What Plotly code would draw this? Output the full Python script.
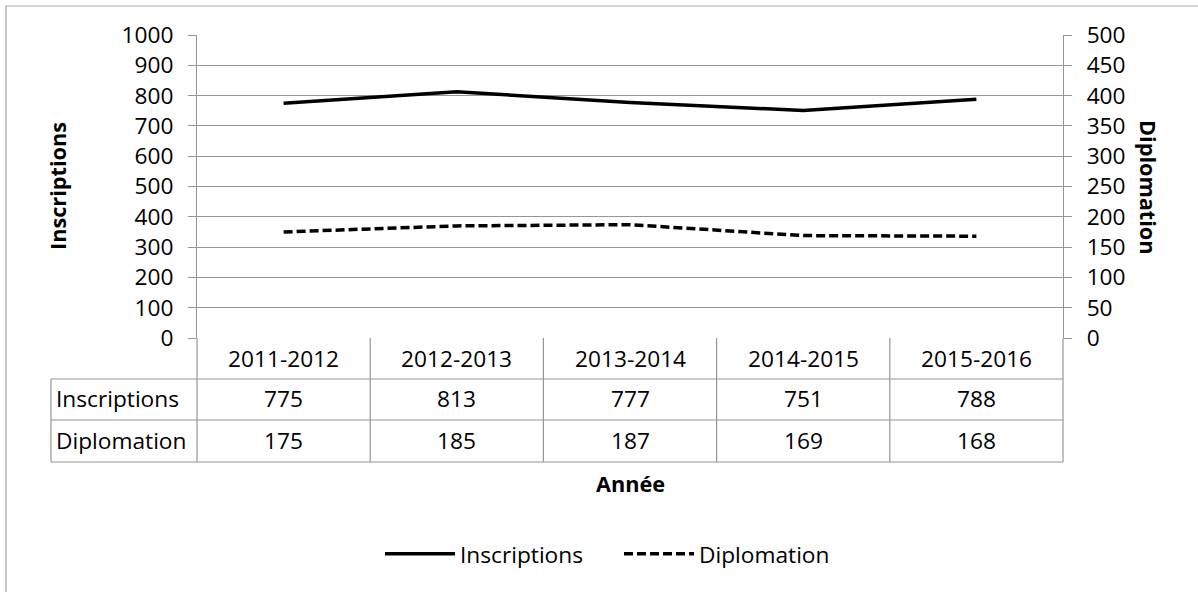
import plotly.graph_objects as go

# ---- data ----
years = ["2011-2012", "2012-2013", "2013-2014", "2014-2015", "2015-2016"]
inscriptions = [775, 813, 777, 751, 788]
diplomation = [175, 185, 187, 169, 168]
series_names = ["Inscriptions", "Diplomation"]
left_ticks = list(range(0, 1001, 100))
right_ticks = list(range(0, 501, 50))

# ---- layout helpers (page pixel -> paper coords of the plot area) ----
W, H = 1198, 592
PL, PR, PT, PB = 197, 1063, 35, 338   # plot area in pixels
def px(x):
    return (x - PL) / (PR - PL)
def py(y):
    return (PB - y) / (PB - PT)

FONT = "Open Sans"
FS = 22.7
GRID = "#969696"
BLACK = "#000000"

TBL_LEFT = 51
ROW_Y = [338, 379, 420, 462]

fig = go.Figure()
fig.add_trace(go.Scatter(x=years, y=inscriptions, name=series_names[0], mode="lines",
                         line=dict(color=BLACK, width=3.5), yaxis="y"))
fig.add_trace(go.Scatter(x=years, y=diplomation, name=series_names[1], mode="lines",
                         line=dict(color=BLACK, width=3.5, dash="9px,4px"), yaxis="y2"))

shapes = []
# outer frame
shapes.append(dict(type="rect", xref="paper", yref="paper", x0=px(6), x1=px(1240),
                   y0=py(6), y1=py(640), line=dict(color="#a6a6a6", width=1.2)))
# table horizontal lines
for yy in ROW_Y[1:]:
    shapes.append(dict(type="line", xref="paper", yref="paper", x0=px(TBL_LEFT), x1=px(PR),
                       y0=py(yy), y1=py(yy), line=dict(color=GRID, width=1.2)))
# table left border
shapes.append(dict(type="line", xref="paper", yref="paper", x0=px(TBL_LEFT), x1=px(TBL_LEFT),
                   y0=py(ROW_Y[1]), y1=py(ROW_Y[3]), line=dict(color=GRID, width=1.2)))
# column boundaries
n = len(years)
for j in range(n + 1):
    shapes.append(dict(type="line", xref="x domain", yref="paper", x0=j / n, x1=j / n,
                       y0=py(ROW_Y[0]), y1=py(ROW_Y[3]), line=dict(color=GRID, width=1.2)))

annotations = []
tfont = dict(family=FONT, size=FS, color=BLACK)
for i, yr in enumerate(years):
    annotations.append(dict(x=yr, y=py(358), xref="x", yref="paper", text=yr,
                            showarrow=False, font=tfont, xanchor="center", yanchor="middle"))
    annotations.append(dict(x=yr, y=py(399), xref="x", yref="paper", text=str(inscriptions[i]),
                            showarrow=False, font=tfont, xanchor="center", yanchor="middle"))
    annotations.append(dict(x=yr, y=py(440), xref="x", yref="paper", text=str(diplomation[i]),
                            showarrow=False, font=tfont, xanchor="center", yanchor="middle"))
for name, yy in zip(series_names, [399, 440]):
    annotations.append(dict(x=px(54), y=py(yy), xref="paper", yref="paper", text=name,
                            showarrow=False, font=tfont, xanchor="left", yanchor="middle"))
bfont = dict(family=FONT, size=21.7, color=BLACK)
annotations.append(dict(x=px(57), y=py(186), xref="paper", yref="paper", text="<b>Inscriptions</b>",
                        showarrow=False, font=bfont, textangle=-90,
                        xanchor="center", yanchor="middle"))
annotations.append(dict(x=px(1149), y=py(187), xref="paper", yref="paper", text="<b>Diplomation</b>",
                        showarrow=False, font=bfont, textangle=90,
                        xanchor="center", yanchor="middle"))
annotations.append(dict(x=px(630), y=py(483), xref="paper", yref="paper", text="<b>Année</b>",
                        showarrow=False, font=bfont, xanchor="center", yanchor="middle"))

fig.update_layout(
    width=W, height=H,
    margin=dict(l=PL, r=W - PR, t=PT, b=H - PB, pad=0),
    paper_bgcolor="white", plot_bgcolor="white",
    font=dict(family=FONT, size=FS, color=BLACK),
    showlegend=True,
    legend=dict(orientation="h", x=px(380), y=py(554), xanchor="left", yanchor="middle",
                itemwidth=70, entrywidth=154, entrywidthmode="pixels",
                font=dict(family=FONT, size=FS, color=BLACK),
                bgcolor="rgba(0,0,0,0)", tracegroupgap=0),
    xaxis=dict(type="category", categoryarray=years, range=[-0.5, n - 0.5],
               showticklabels=False, ticks="", showgrid=False, zeroline=False,
               showline=False, fixedrange=True, automargin=False),
    yaxis=dict(range=[0, 1000], tickvals=left_ticks, ticks="outside", ticklen=8,
               tickcolor=GRID, tickwidth=1.2, showline=True, linecolor=GRID, linewidth=1.2,
               gridcolor=GRID, gridwidth=1.2, zeroline=False, ticklabelstandoff=10,
               tickfont=dict(family=FONT, size=FS, color=BLACK), fixedrange=True,
               automargin=False),
    yaxis2=dict(range=[0, 500], tickvals=right_ticks, overlaying="y", side="right",
                ticks="outside", ticklen=8, tickcolor=GRID, tickwidth=1.2,
                showline=True, linecolor=GRID, linewidth=1.2, showgrid=False, zeroline=False,
                ticklabelstandoff=10, tickfont=dict(family=FONT, size=FS, color=BLACK),
                fixedrange=True, automargin=False),
    shapes=shapes,
    annotations=annotations,
)

fig.write_html("out.html", config={"displayModeBar": False},
               post_script="document.body.style.margin='0';")
